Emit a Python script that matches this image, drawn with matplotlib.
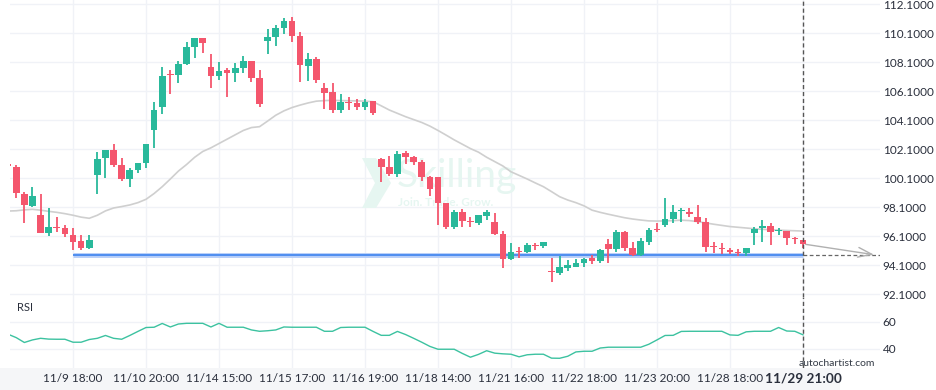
import matplotlib
matplotlib.use("Agg")
import matplotlib.pyplot as plt
from matplotlib.patches import Polygon, Rectangle
import numpy as np

plt.rcParams['font.family'] = ['Lato', 'DejaVu Sans']

# candle data
opens = [101.07, 100.88, 99.02, 98.21, 97.57, 96.35, 96.74, 96.65, 96.19, 95.78,
         95.32, 100.35, 101.52, 102.05, 101.02, 100.05, 100.67, 101.16, 103.43, 105.04,
         107.27, 107.22, 107.98, 109.15, 109.80, 107.80, 107.15, 107.57, 107.38, 107.73,
         108.19, 107.04, 109.59, 109.87, 110.49, 110.95, 109.94, 107.87, 108.33, 106.35,
         106.03, 104.81, 105.38, 105.26, 105.04, 105.43, 101.43, 100.90, 100.40, 101.87,
         101.59, 101.24, 100.21, 100.21, 98.42, 96.76, 97.79, 97.17, 97.04, 97.50,
         97.11, 96.26, 94.55, 95.10, 95.03, 95.49, 95.45, 93.67, 93.59, 93.93,
         93.98, 94.25, 94.60, 94.41, 95.57, 95.22, 96.37, 95.26, 94.80, 95.73,
         96.60, 96.87, 97.29, 97.82, 97.79, 97.40, 97.06, 95.36, 95.29, 95.15,
         95.00, 94.94, 96.35, 96.65, 96.81, 96.46, 96.49, 95.94, 95.84]
highs = [101.12, 101.02, 99.13, 99.52, 99.00, 98.03, 97.41, 96.86, 96.65, 96.19,
         96.19, 101.89, 102.05, 102.47, 101.48, 100.78, 101.16, 102.47, 105.34, 107.75,
         107.57, 108.21, 109.52, 109.80, 109.80, 108.67, 108.10, 107.68, 108.03, 108.53,
         108.19, 107.57, 110.40, 110.67, 111.13, 111.20, 110.17, 108.76, 108.44, 106.65,
         106.65, 105.89, 105.73, 105.57, 105.57, 105.43, 101.48, 101.64, 102.01, 102.01,
         101.66, 101.36, 100.28, 100.21, 98.42, 97.91, 97.95, 97.45, 97.57, 97.91,
         97.68, 96.46, 95.66, 95.33, 95.66, 95.66, 95.70, 94.57, 94.73, 94.46,
         94.53, 94.60, 94.78, 95.22, 95.89, 96.53, 96.46, 95.68, 96.00, 96.64,
         97.04, 98.72, 98.26, 98.03, 98.03, 98.26, 97.34, 95.70, 95.63, 95.29,
         95.24, 95.31, 96.76, 97.22, 96.99, 96.65, 96.49, 96.07, 95.84]
lows = [100.92, 98.72, 97.00, 98.14, 96.31, 96.12, 96.38, 96.03, 95.16, 95.16,
        95.25, 98.99, 100.14, 100.90, 99.94, 99.52, 100.44, 100.79, 102.17, 104.51,
        105.89, 106.65, 107.91, 108.37, 108.76, 106.30, 106.88, 105.68, 106.77, 107.38,
        106.72, 105.04, 108.67, 109.25, 110.03, 109.52, 106.77, 106.83, 106.65, 104.86,
        104.58, 104.63, 104.81, 104.81, 104.81, 104.46, 99.87, 100.28, 100.21, 101.06,
        101.01, 99.91, 98.88, 96.88, 96.58, 96.58, 96.76, 96.76, 96.90, 97.22,
        96.19, 93.88, 94.46, 94.60, 94.96, 95.13, 95.29, 92.96, 93.41, 93.67,
        93.95, 93.98, 94.19, 94.25, 94.25, 95.03, 95.06, 94.73, 94.73, 95.50,
        96.42, 96.76, 97.04, 97.11, 97.40, 96.94, 95.03, 94.92, 94.85, 94.87,
        94.76, 94.73, 95.50, 95.73, 95.50, 96.19, 95.50, 95.54, 95.29]
closes = [100.96, 99.06, 98.28, 98.88, 96.35, 96.74, 96.70, 96.28, 95.73, 95.32,
          95.84, 101.43, 102.05, 101.02, 100.05, 100.67, 101.16, 102.47, 104.81, 107.15,
          107.22, 107.98, 109.15, 109.80, 109.45, 107.15, 107.50, 107.38, 107.68, 108.19,
          107.04, 105.23, 109.87, 110.49, 110.95, 109.94, 107.91, 108.30, 106.88, 105.98,
          104.81, 105.38, 105.31, 105.04, 105.38, 104.58, 100.90, 100.40, 101.78, 101.59,
          101.24, 100.21, 99.34, 98.42, 96.76, 97.79, 97.17, 97.08, 97.57, 97.79,
          96.26, 94.55, 94.99, 95.03, 95.49, 95.45, 95.70, 93.62, 94.00, 94.09,
          94.25, 94.53, 94.41, 95.15, 95.22, 96.37, 95.26, 94.80, 95.77, 96.53,
          96.55, 97.27, 97.77, 97.86, 97.63, 97.11, 95.38, 95.33, 95.24, 95.01,
          94.97, 95.31, 96.58, 96.81, 96.42, 96.51, 95.96, 95.89, 95.57]

# moving average as drawn (grey line)
ma = [97.84, 97.86, 97.92, 97.96, 97.90, 97.82, 97.75, 97.66, 97.55, 97.42,
      97.34, 97.55, 97.85, 98.05, 98.15, 98.26, 98.42, 98.65, 99.05, 99.52,
      100.05, 100.60, 101.05, 101.55, 101.95, 102.20, 102.50, 102.80, 103.10, 103.40,
      103.60, 103.66, 104.05, 104.45, 104.75, 104.98, 105.15, 105.30, 105.42, 105.46,
      105.48, 105.46, 105.45, 105.44, 105.42, 105.38, 105.10, 104.81, 104.58, 104.35,
      104.15, 103.95, 103.70, 103.40, 103.08, 102.75, 102.45, 102.15, 101.90, 101.55,
      101.25, 100.95, 100.55, 100.30, 100.05, 99.78, 99.52, 99.18, 98.83, 98.60,
      98.42, 98.20, 97.90, 97.75, 97.62, 97.50, 97.38, 97.29, 97.22, 97.16,
      97.15, 97.16, 97.18, 97.21, 97.18, 97.11, 97.02, 96.93, 96.85, 96.77,
      96.72, 96.67, 96.62, 96.58, 96.55, 96.52, 96.50, 96.48, 96.46]

rsi = [50.9, 48.4, 44.8, 46.7, 47.9, 47.3, 47.2, 47.2, 45.0, 45.0,
       47.0, 47.9, 50.0, 47.9, 47.2, 50.0, 53.0, 55.9, 56.1, 58.9,
       56.3, 58.5, 59.0, 59.0, 59.0, 56.3, 59.0, 56.1, 56.1, 56.1,
       54.1, 53.1, 53.5, 54.1, 56.3, 56.1, 56.1, 56.1, 56.1, 53.1,
       53.1, 55.9, 56.1, 56.1, 56.1, 53.0, 50.1, 50.1, 53.0, 50.7,
       47.9, 45.0, 41.9, 39.8, 39.8, 39.8, 36.7, 33.9, 36.0, 38.7,
       36.9, 36.4, 36.1, 34.2, 35.7, 36.1, 36.1, 33.2, 33.1, 34.6,
       37.8, 38.3, 38.3, 40.7, 41.3, 41.3, 41.3, 41.3, 41.3, 43.5,
       46.7, 50.0, 50.1, 53.0, 53.1, 53.1, 53.1, 53.1, 53.1, 50.4,
       50.1, 52.7, 53.1, 53.1, 53.1, 55.9, 53.3, 53.1, 50.5]

tick_idx = [8, 17, 26, 35, 44, 53, 62, 71, 80, 89, 98]
tick_labels = ['11/9 18:00', '11/10 20:00', '11/14 15:00', '11/15 17:00', '11/16 19:00',
               '11/18 14:00', '11/21 16:00', '11/22 18:00', '11/23 20:00', '11/28 18:00',
               '11/29 21:00']
price_ticks = [92.1, 94.1, 96.1, 98.1, 100.1, 102.1, 104.1, 106.1, 108.1, 110.1, 112.1]
rsi_ticks = [40, 60]

level = 94.8          # horizontal support line
level_start = 8
target_x = 107.1      # end of projection arrow

GREEN = '#29b99b'
RED = '#f4566d'
GRID = '#f0f2f7'
TXT = '#2a2f3c'

W, H = 936, 390
fig = plt.figure(figsize=(W / 100, H / 100), dpi=100)

# bottom band for time labels (behind the axes and their labels)
fig.patches.append(Rectangle((0, 0), 840 / W, 22 / H, transform=fig.transFigure,
                             facecolor='#f5f6f8', edgecolor='none', zorder=-1))

ax = fig.add_axes([10 / W, 93 / H, 870 / W, 297 / H])
ax2 = fig.add_axes([10 / W, 22 / H, 870 / W, 71 / H])

x = np.arange(len(opens))
o = np.array(opens)
c = np.array(closes)
up = c >= o
cols = np.where(up, GREEN, RED)

# watermark
def px(xp, yp):
    return ((xp - 10) / 870, (297 - yp) / 297)

ax.add_patch(Polygon([px(362, 158), px(376, 158), px(391, 183), px(376, 208),
                      px(362, 208), px(375, 183)], closed=True,
                     transform=ax.transAxes, facecolor='#e6f6f1', edgecolor='none', zorder=1))
ax.text(*px(457, 176), 'Skilling', transform=ax.transAxes, ha='center', va='center',
        fontsize=28, color='#e6f6f1', zorder=1)
ax.text(*px(446, 203), 'Join. Trade. Grow.', transform=ax.transAxes, ha='center',
        va='center', fontsize=8.5, fontweight='bold', color='#e6f6f1', zorder=1)

# wicks and bodies
ax.vlines(x, lows, highs, colors=cols, lw=1.3, zorder=3)
body = np.maximum(np.abs(c - o), 0.07)
ax.bar(x, body, bottom=np.minimum(o, c), width=0.82, color=cols, zorder=4, linewidth=0)

ax.plot(x, ma, color='#cfcfcf', lw=1.2, zorder=2)

# support level
ax.plot([level_start, x[-1]], [level, level], color='#b5cdf8', lw=3.5, zorder=2.5,
        solid_capstyle='butt')
ax.plot([level_start, x[-1]], [level, level], color='#4f8ef0', lw=1.4, zorder=2.6,
        solid_capstyle='butt')

# projection
ax.plot([x[-1], 108.5], [level, level], color='#666666', lw=0.9, ls=(0, (3, 2)), zorder=2)
ax.annotate('', xy=(target_x, level), xytext=(x[-1], closes[-1]),
            arrowprops=dict(arrowstyle='->,head_length=1.0,head_width=0.35',
                            color='#b0b0b0', lw=1.0), zorder=2)

for a in (ax, ax2):
    a.axvline(x[-1], color='#555555', lw=1.0, ls=(0, (3, 2)), zorder=5)
    a.set_xlim(0.23, 107.5)
    a.set_xticks(tick_idx)
    a.grid(True, color=GRID, lw=1)
    a.set_axisbelow(True)
    for s in a.spines.values():
        s.set_visible(False)
    a.yaxis.tick_right()
    a.tick_params(length=0, colors=TXT, labelsize=8.5)

ax.set_ylim(91.91, 112.4)
ax.set_yticks(price_ticks)
ax.set_yticklabels(['%.4f' % v for v in price_ticks])
ax.set_xticklabels([])
ax.tick_params(axis='y', pad=2)

# RSI panel
ax2.plot(x, rsi, color='#3cc2a0', lw=1.0, zorder=3)
ax2.set_ylim(25.9, 78.5)
ax2.set_yticks(rsi_ticks)
ax2.set_yticklabels([str(v) for v in rsi_ticks])
ax2.tick_params(axis='y', pad=2)
ax2.set_xticklabels(tick_labels)
ax2.tick_params(axis='x', pad=3.5)
last = ax2.get_xticklabels()[-1]
last.set_fontweight('bold')
last.set_fontsize(9.8)
ax2.text(0.008, 0.85, 'RSI', transform=ax2.transAxes, fontsize=8, color=TXT, va='center')
ax2.text(789 / 870, 0.07, 'autochartist.com', transform=ax2.transAxes, fontsize=7.5,
         color='#333a45', va='center')

fig.savefig('out.png', dpi=100)
